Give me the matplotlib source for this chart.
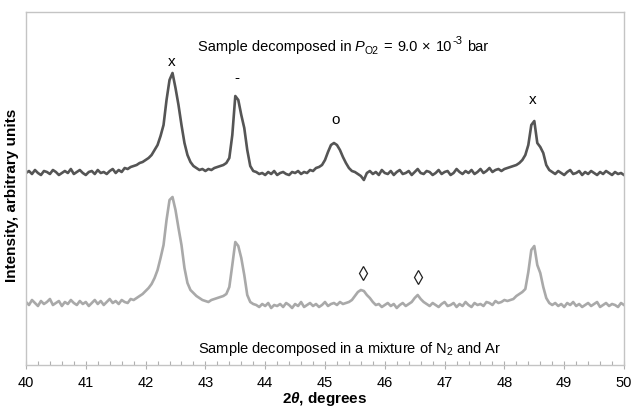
import numpy as np
import matplotlib
matplotlib.use("Agg")
import matplotlib.pyplot as plt

plt.rcParams['font.family'] = ['Liberation Sans', 'DejaVu Sans']
plt.rcParams['mathtext.fontset'] = 'custom'
plt.rcParams['mathtext.rm'] = 'Liberation Sans'
plt.rcParams['mathtext.it'] = 'Liberation Sans:italic'
plt.rcParams['mathtext.bf'] = 'Liberation Sans:italic:bold'

# ---------------- data ----------------
two_theta = np.round(np.arange(40.0, 50.0001, 0.05), 2)

# Sample decomposed in P_O2 = 9.0e-3 bar (arbitrary units)
intensity_po2 = [
    192,194,191,195,192,190,194,193,191,195,193,190,192,194,192,196,191,193,195,192,
    190,193,194,191,195,192,193,191,194,196,192,195,193,197,196,
    198,199,200,202,203,205,207,210,215,220,
    229,240,265,285,292,277,260,240,222,210,
    203,199,197,195,196,194,196,195,197,198,
    199,200,202,207,230,269,265,250,237,215,
    199,194,
    193,191,192,190,193,191,194,190,192,193,191,190,193,192,194,191,193,192,195,194,
    197,198,200,205,213,220,222,220,215,208,202,197,194,193,191,189,185,192,
    194,191,193,190,195,192,191,194,190,193,195,191,192,194,190,193,196,192,191,194,
    193,190,192,195,191,193,194,190,192,196,193,191,194,192,195,191,193,196,192,194,
    197,193,195,196,194,196,
    197,198,199,200,202,205,210,220,240,244,222,218,212,200,195,193,
    191,194,192,190,193,195,191,192,194,190,193,191,194,192,190,193,191,194,192,190,
    193,191,192,190,
]

# Sample decomposed in a mixture of N2 and Ar (arbitrary units)
intensity_n2ar = [
    63,60,65,62,59,64,61,63,66,60,62,64,59,63,61,65,62,60,64,61,
    63,59,62,65,61,64,60,63,66,62,64,61,65,63,62,66,65,
    67,69,71,74,77,81,87,95,107,120,
    145,165,168,155,137,120,97,82,75,72,
    69,67,65,64,63,65,66,67,68,69,
    71,78,100,123,119,107,90,70,63,61,
    60,58,61,59,62,57,60,59,61,58,62,60,57,61,59,63,58,60,62,59,
    61,58,60,63,59,61,62,60,63,61,62,
    63,65,69,73,75,74,70,67,63,60,
    61,58,60,62,59,61,57,60,62,59,61,63,
    67,70,66,63,61,
    59,62,60,58,61,63,59,60,62,58,61,59,63,60,58,62,60,61,59,63,
    62,60,64,62,63,65,
    64,65,66,69,71,73,76,93,115,119,100,92,78,67,62,
    60,62,59,61,58,62,60,63,59,61,58,60,62,59,61,63,58,60,62,59,
    61,60,58,62,60,
]

peak_labels = ['x', '-', 'o', 'x']
peak_label_x = [42.44, 43.53, 45.17, 48.48]
peak_label_y = [303, 287, 245, 265]

diamond_x = [45.63, 46.55]
diamond_y = [92, 88]

# top caption, written as a chain of pieces
top_pieces = ["Sample decomposed in", "P", "O2", "=", "9.0", "×", "10", "-3", "bar"]
top_piece_gap = [0, 2.2, 0.0, 3.5, 3.5, 3.5, 3.5, 0.5, 3.5]     # points after previous piece
top_piece_dy = [0, 0, -2.5, 0, 0, 0, 0, 4.8, 0]                # baseline shift, points
top_piece_size = [10.5, 10.5, 7.5, 10.5, 10.5, 10.5, 10.5, 8, 10.5]
top_piece_style = ['normal', 'italic', 'normal', 'normal', 'normal', 'normal',
                   'normal', 'normal', 'normal']
top_x0 = 42.88
top_baseline = 314

bottom_title = "Sample decomposed in a mixture of N$_{2}$ and Ar"
xlabel = "2$\\mathbf{\\theta}$, degrees"
ylabel = "Intensity, arbitrary units"
xticks = list(range(40, 51))

assert len(intensity_po2) == len(two_theta), len(intensity_po2)
assert len(intensity_n2ar) == len(two_theta), len(intensity_n2ar)

# ---------------- figure ----------------
fig = plt.figure(figsize=(6.32, 4.09), dpi=100)
ax = fig.add_axes([26/632, 44/409, 598/632, 353/409])

ax.plot(two_theta, intensity_po2, color='#555555', lw=1.9, solid_joinstyle='round')
ax.plot(two_theta, intensity_n2ar, color='#a9a9a9', lw=1.9, solid_joinstyle='round')

for lab, x, y in zip(peak_labels, peak_label_x, peak_label_y):
    ax.text(x, y, lab, ha='center', va='center', fontsize=11, color='black')

ax.plot(diamond_x, diamond_y, linestyle='none', marker='d', markersize=7,
        markerfacecolor='white', markeredgecolor='#222222', markeredgewidth=0.9)

prev = None
for s, gap, dy, fs, st in zip(top_pieces, top_piece_gap, top_piece_dy,
                              top_piece_size, top_piece_style):
    if prev is None:
        prev = ax.text(top_x0, top_baseline, s, ha='left', va='baseline',
                       fontsize=fs, fontstyle=st)
    else:
        prev = ax.annotate(s, xy=(1, top_baseline), xycoords=(prev, 'data'),
                           xytext=(gap, dy), textcoords='offset points',
                           ha='left', va='baseline', fontsize=fs, fontstyle=st)

ax.text(42.88, 16, bottom_title, ha='left', va='center', fontsize=10.5)

ax.set_xlim(40, 50)
ax.set_ylim(0, 353)
ax.set_xticks(xticks)
ax.set_xticks(np.arange(40, 50.001, 0.2), minor=True)
ax.set_yticks([])

for sp in ax.spines.values():
    sp.set_color('#c4c4c4')
    sp.set_linewidth(1.0)

ax.tick_params(axis='x', which='major', direction='inout', length=6, width=0.8,
               color='#b0b0b0', labelsize=10.5, pad=5)
ax.tick_params(axis='x', which='minor', direction='in', length=3, width=0.8,
               color='#b0b0b0')

ax.set_xlabel(xlabel, fontsize=11, fontweight='bold')
ax.xaxis.set_label_coords(0.5, -0.071)
ax.set_ylabel(ylabel, fontsize=11, fontweight='bold')
ax.yaxis.set_label_coords(-0.012, 0.48)

fig.savefig('out.png', dpi=100)
